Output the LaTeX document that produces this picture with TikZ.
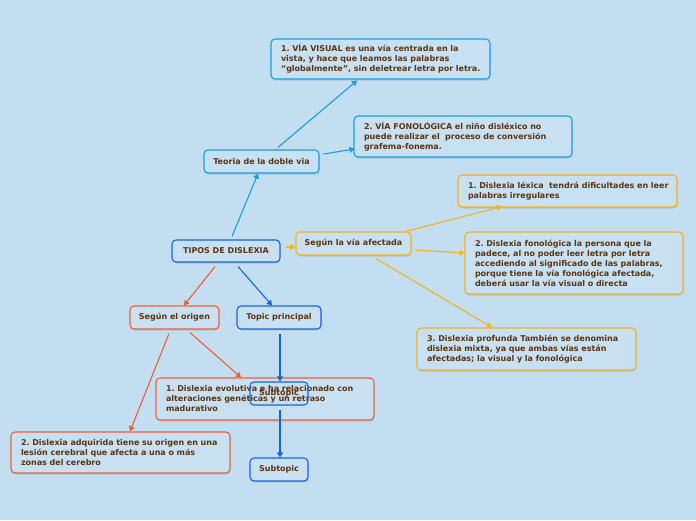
\documentclass[tikz,border=0pt]{standalone}
\usepackage{fontspec}
\setmainfont{DejaVu Sans}
\usetikzlibrary{arrows.meta,calc,shadows}
\definecolor{bg}{RGB}{194,222,240}
\definecolor{boxfill}{RGB}{199,224,242}
\definecolor{txt}{RGB}{92,52,16}
\definecolor{cLight}{RGB}{22,160,226}
\definecolor{cOrange}{RGB}{247,178,28}
\definecolor{cRed}{RGB}{240,96,56}
\definecolor{cBlue}{RGB}{22,100,220}
\newcommand{\tline}[1]{\mbox{#1}}
\tikzset{
  plainbox/.style={draw, line width=1.1pt, rounded corners=4pt,
    text=txt, font=\fontsize{8}{10}\selectfont\bfseries\frenchspacing, inner sep=0pt},
  box/.style={plainbox, fill=boxfill,
    drop shadow={shadow xshift=0.6pt, shadow yshift=-1.6pt, opacity=0.25}},
  tbox/.style={box, align=left},
  conn/.style={line width=1.1pt, -{Triangle[length=5pt,width=6pt]}},
}
\begin{document}
\begin{tikzpicture}[x=1pt,y=-1pt]
\fill[bg] (0,0) rectangle (696,520);
\useasboundingbox (0,0) rectangle (696,520);

% light blue branch
\node[tbox, draw=cLight, minimum width=219pt, minimum height=40pt, text width=199pt] (visual) at (380.5,59)
 {\tline{1. VÍA VISUAL es una vía centrada en la}\\ \tline{vista, y hace que leamos las palabras}\\ \tline{“globalmente”, sin deletrear letra por letra.}};
\node[tbox, draw=cLight, minimum width=218pt, minimum height=41pt, text width=198pt] (fono) at (463,136.5)
 {\tline{2. VÍA FONOLÓGICA el niño disléxico no}\\ \tline{puede realizar el\ \ proceso de conversión}\\ \tline{grafema-fonema.}};
\node[box, draw=cLight, minimum width=115pt, minimum height=23pt] (teoria) at (261.5,161.5) {Teoria de la doble via};

% root
\node[box, draw=cBlue, minimum width=108pt, minimum height=22pt] (tipos) at (226,251) {TIPOS DE DISLEXIA};

% orange branch
\node[box, draw=cOrange, minimum width=115pt, minimum height=23pt] (viaaf) at (353.5,243.5) {Según la vía afectada};
\node[tbox, draw=cOrange, minimum width=219pt, minimum height=32pt, text width=199pt] (lexica) at (567.5,191)
 {\tline{1. Dislexia léxica\ \ tendrá dificultades en leer}\\ \tline{palabras irregulares}};
\node[tbox, draw=cOrange, minimum width=218pt, minimum height=62pt, text width=198pt] (fonol) at (574,263)
 {\tline{2. Dislexia fonológica la persona que la}\\ \tline{padece, al no poder leer letra por letra}\\ \tline{accediendo al significado de las palabras,}\\ \tline{porque tiene la vía fonológica afectada,}\\ \tline{deberá usar la vía visual o directa}};
\node[tbox, draw=cOrange, minimum width=219pt, minimum height=42pt, text width=199pt] (profunda) at (526.5,349)
 {\tline{3. Dislexia profunda También se denomina}\\ \tline{dislexia mixta, ya que ambas vías están}\\ \tline{afectadas; la visual y la fonológica}};

% red branch
\node[box, draw=cRed, minimum width=89pt, minimum height=23pt] (origen) at (174.5,317.5) {Según el origen};
\node[tbox, draw=cRed, minimum width=218pt, minimum height=42pt, text width=198pt] (evol) at (265,399)
 {\tline{1. Dislexia evolutiva e ha relacionado con}\\ \tline{alteraciones genéticas y un retraso}\\ \tline{madurativo}};
\node[tbox, draw=cRed, minimum width=219pt, minimum height=41pt, text width=199pt] (adq) at (120.5,452.5)
 {\tline{2. Dislexia adquirida tiene su origen en una}\\ \tline{lesión cerebral que afecta a una o más}\\ \tline{zonas del cerebro}};

% blue branch
\node[box, draw=cBlue, minimum width=84pt, minimum height=23pt] (topic) at (279,317.5) {Topic principal};
\node[plainbox, draw=cBlue, minimum width=58pt, minimum height=23pt] (sub1) at (279,393.5) {Subtopic};
\node[box, draw=cBlue, minimum width=58pt, minimum height=23pt] (sub2) at (279,469.5) {Subtopic};

% connectors
\draw[conn, cLight] ($(tipos.north)+(6,-3)$) -- ($(teoria.south)+(-3.5,0)$);
\draw[conn, cLight] ($(teoria.north)+(16.5,-2)$) -- ($(visual.south)+(-23.5,1)$);
\draw[conn, cLight] ($(teoria.east)+(4,-7.5)$) -- ($(fono.west)+(1,12.5)$);

\draw[conn, cOrange] ($(tipos.east)+(5,-4)$) -- ($(viaaf.west)+(0,3.5)$);
\draw[conn, cOrange] ($(viaaf.north east)+(-6,0)$) -- ($(lexica.south)+(-65.5,-1)$);
\draw[conn, cOrange] ($(viaaf.east)+(4,6.5)$) -- ($(fonol.west)+(0,-10)$);
\draw[conn, cOrange] ($(viaaf.south)+(22.5,3)$) -- ($(profunda.north)+(-34.5,0)$);

\draw[conn, cRed] ($(tipos.south)+(-11,4)$) -- ($(origen.north)+(9.5,0)$);
\draw[conn, cRed] ($(origen.south)+(-5.5,4)$) -- ($(adq.north)+(9.5,0)$);
\draw[conn, cRed] ($(origen.south)+(15.5,3)$) -- ($(evol.north)+(-24,0)$);

\draw[conn, cBlue] ($(tipos.south)+(12,4)$) -- ($(topic.north)+(-7,0)$);
\draw[conn, cBlue] ($(topic.south)+(1,4)$) -- ($(sub1.north)+(1,0)$);
\draw[conn, cBlue] ($(sub1.south)+(1,4)$) -- ($(sub2.north)+(1,0)$);
\end{tikzpicture}
\end{document}
